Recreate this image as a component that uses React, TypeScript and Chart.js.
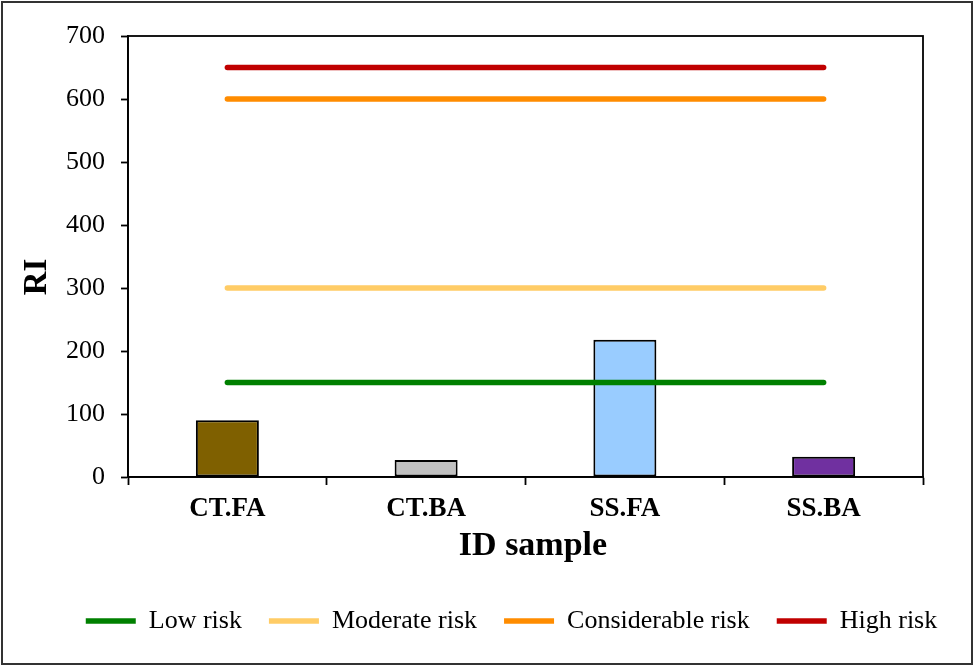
import React, { useEffect, useRef } from "react";
import { Chart, registerables } from "chart.js";

Chart.register(...registerables);

const categories = ["CT.FA", "CT.BA", "SS.FA", "SS.BA"];
const riValues = [90, 27, 218, 32];
const barColors = ["#7F6000", "#C0C0C0", "#99CCFF", "#7030A0"];
const lowRisk = [150, 150, 150, 150];
const moderateRisk = [300, 300, 300, 300];
const considerableRisk = [600, 600, 600, 600];
const highRisk = [650, 650, 650, 650];
const yTitle = "RI";
const xTitle = "ID sample";

const FONT = "'Liberation Serif', 'Times New Roman', serif";

const framePlugin = {
  id: "frame",
  afterDraw(chart: any) {
    const { ctx, chartArea } = chart;
    ctx.save();
    ctx.strokeStyle = "#000";
    ctx.lineWidth = 1.8;
    ctx.strokeRect(
      chartArea.left,
      chartArea.top,
      chartArea.right - chartArea.left,
      chartArea.bottom - chartArea.top
    );
    ctx.strokeStyle = "#333";
    ctx.lineWidth = 2;
    ctx.strokeRect(2, 2, 970, 662);
    // axis titles
    ctx.fillStyle = "#000";
    ctx.textAlign = "center";
    ctx.textBaseline = "middle";
    ctx.font = `bold 34px ${FONT}`;
    ctx.fillText(xTitle, 533, 546);
    ctx.translate(37, 277);
    ctx.rotate(-Math.PI / 2);
    ctx.font = `bold 33px ${FONT}`;
    ctx.fillText(yTitle, 0, 0);
    ctx.restore();
  },
};

const lineDs = (label: string, data: number[], color: string) => ({
  type: "line" as const,
  label,
  data,
  borderColor: color,
  backgroundColor: color,
  borderWidth: 5.5,
  borderCapStyle: "round" as const,
  pointRadius: 0,
  pointHoverRadius: 0,
  fill: false,
  order: 0,
});

export default function App() {
  const ref = useRef<HTMLCanvasElement>(null);
  useEffect(() => {
    document.body.style.margin = "0";
    const chart = new Chart(ref.current!, {
      type: "bar",
      data: {
        labels: categories,
        datasets: [
          lineDs("Low risk", lowRisk, "#008000"),
          lineDs("Moderate risk", moderateRisk, "#FFCC66"),
          lineDs("Considerable risk", considerableRisk, "#FF8C00"),
          lineDs("High risk", highRisk, "#C00000"),
          {
            type: "bar" as const,
            label: "RI",
            data: riValues,
            backgroundColor: barColors,
            borderColor: "#000",
            borderWidth: 2,
            borderSkipped: false,
            categoryPercentage: 1,
            barPercentage: 0.317,
            order: 1,
          } as any,
        ],
      },
      options: {
        responsive: false,
        animation: false,
        layout: { padding: { left: 48, right: 0, top: 36, bottom: 23 } },
        plugins: {
          tooltip: { enabled: false },
          legend: {
            position: "bottom",
            labels: {
              filter: (item: any) => item.text !== "RI",
              usePointStyle: true,
              pointStyle: "line",
              pointStyleWidth: 50,
              padding: 27,
              color: "#000",
              font: { family: FONT, size: 26 },
            },
          },
        },
        scales: {
          x: {
            offset: true,
            grid: {
              offset: true,
              drawOnChartArea: false,
              drawTicks: true,
              tickLength: 8,
              tickColor: "#000",
              tickWidth: 1.8,
            },
            border: { color: "#000", width: 1.8 },
            ticks: {
              color: "#000",
              padding: 8,
              font: { family: FONT, size: 27, weight: "bold" },
            },
            afterFit: (s: any) => {
              s.height = 104;
            },
          },
          y: {
            min: 0,
            max: 700,
            ticks: {
              stepSize: 100,
              color: "#000",
              padding: 16,
              font: { family: FONT, size: 26 },
            },
            grid: {
              drawOnChartArea: false,
              drawTicks: true,
              tickLength: 7,
              tickColor: "#000",
              tickWidth: 1.8,
            },
            border: { color: "#000", width: 1.8 },
            afterFit: (s: any) => {
              s.width = 80;
            },
          },
          spacer: {
            type: "linear",
            position: "right",
            display: true,
            grid: { display: false },
            border: { display: false },
            ticks: { display: false },
            afterFit: (s: any) => {
              s.width = 52;
            },
          },
        },
      },
      plugins: [framePlugin],
    });
    return () => chart.destroy();
  }, []);
  return (
    <div style={{ width: 975, height: 667, background: "#fff" }}>
      <canvas ref={ref} width={975} height={667} style={{ display: "block" }} />
    </div>
  );
}
